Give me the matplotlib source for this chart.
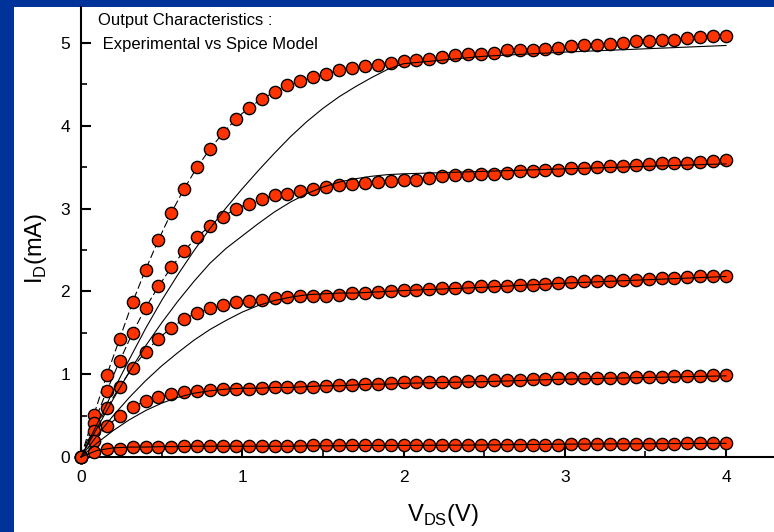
import matplotlib
matplotlib.use("Agg")
import matplotlib.pyplot as plt
from matplotlib.patches import Rectangle

# ---------------- data ----------------
vds_meas = [0.00, 0.08, 0.16, 0.24, 0.32, 0.40, 0.48, 0.56, 0.64, 0.72,
            0.80, 0.88, 0.96, 1.04, 1.12, 1.20, 1.28, 1.36, 1.44, 1.52,
            1.60, 1.68, 1.76, 1.84, 1.92, 2.00, 2.08, 2.16, 2.24, 2.32,
            2.40, 2.48, 2.56, 2.64, 2.72, 2.80, 2.88, 2.96, 3.04, 3.12,
            3.20, 3.28, 3.36, 3.44, 3.52, 3.60, 3.68, 3.76, 3.84, 3.92, 4.00]

id_meas_1 = [0.00, 0.51, 0.99, 1.43, 1.87, 2.26, 2.62, 2.95, 3.24, 3.50,
             3.72, 3.91, 4.08, 4.22, 4.32, 4.41, 4.49, 4.54, 4.59, 4.63,
             4.67, 4.70, 4.72, 4.74, 4.76, 4.78, 4.79, 4.81, 4.83, 4.85,
             4.87, 4.87, 4.88, 4.91, 4.92, 4.92, 4.93, 4.94, 4.96, 4.98,
             4.98, 4.99, 5.00, 5.02, 5.03, 5.04, 5.04, 5.06, 5.07, 5.08, 5.08]
id_meas_2 = [0.00, 0.41, 0.80, 1.16, 1.50, 1.80, 2.06, 2.29, 2.49, 2.66,
             2.79, 2.90, 3.00, 3.06, 3.12, 3.16, 3.18, 3.21, 3.24, 3.26,
             3.28, 3.30, 3.31, 3.32, 3.33, 3.35, 3.35, 3.37, 3.39, 3.40,
             3.40, 3.42, 3.42, 3.43, 3.45, 3.46, 3.47, 3.47, 3.49, 3.49,
             3.50, 3.51, 3.51, 3.53, 3.54, 3.55, 3.55, 3.55, 3.56, 3.57, 3.59]
id_meas_3 = [0.00, 0.31, 0.59, 0.85, 1.08, 1.27, 1.43, 1.56, 1.67, 1.74,
             1.80, 1.84, 1.87, 1.88, 1.90, 1.92, 1.93, 1.94, 1.94, 1.95,
             1.96, 1.98, 1.98, 1.99, 2.00, 2.02, 2.02, 2.03, 2.04, 2.04,
             2.05, 2.06, 2.06, 2.07, 2.08, 2.08, 2.09, 2.10, 2.11, 2.12,
             2.12, 2.13, 2.14, 2.14, 2.15, 2.16, 2.16, 2.17, 2.18, 2.18, 2.19]
id_meas_4 = [0.00, 0.19, 0.37, 0.50, 0.60, 0.68, 0.72, 0.76, 0.79, 0.80,
             0.81, 0.82, 0.82, 0.82, 0.83, 0.84, 0.84, 0.85, 0.85, 0.86,
             0.87, 0.87, 0.88, 0.88, 0.89, 0.90, 0.90, 0.91, 0.91, 0.91,
             0.92, 0.92, 0.93, 0.93, 0.93, 0.94, 0.94, 0.95, 0.95, 0.95,
             0.96, 0.96, 0.96, 0.97, 0.97, 0.97, 0.98, 0.98, 0.98, 0.99, 0.99]
id_meas_5 = [0.00, 0.06, 0.10, 0.10, 0.12, 0.12, 0.12, 0.12, 0.13, 0.13,
             0.13, 0.13, 0.13, 0.13, 0.13, 0.13, 0.13, 0.13, 0.14, 0.14,
             0.14, 0.14, 0.14, 0.14, 0.14, 0.14, 0.14, 0.14, 0.14, 0.15,
             0.15, 0.15, 0.15, 0.15, 0.15, 0.15, 0.15, 0.15, 0.16, 0.16,
             0.16, 0.16, 0.16, 0.16, 0.16, 0.16, 0.16, 0.17, 0.17, 0.17, 0.17]

vds_model = [0.0, 0.1, 0.2, 0.3, 0.4, 0.5, 0.6, 0.7, 0.8, 0.9, 1.0,
             1.1, 1.2, 1.3, 1.4, 1.5, 1.6, 1.7, 1.8, 1.9, 2.0,
             2.5, 3.0, 3.5, 4.0]
id_model_1 = [0.00, 0.40, 0.80, 1.18, 1.55, 1.89, 2.20, 2.49, 2.76, 3.01, 3.24,
              3.46, 3.67, 3.87, 4.05, 4.21, 4.35, 4.47, 4.58, 4.68, 4.75,
              4.84, 4.89, 4.93, 4.97]
id_model_2 = [0.00, 0.35, 0.70, 1.03, 1.34, 1.62, 1.88, 2.12, 2.34, 2.52, 2.67,
              2.82, 2.96, 3.08, 3.18, 3.26, 3.32, 3.36, 3.39, 3.41, 3.42,
              3.45, 3.48, 3.51, 3.54]
id_model_3 = [0.00, 0.26, 0.50, 0.72, 0.92, 1.10, 1.26, 1.41, 1.54, 1.65, 1.75,
              1.83, 1.89, 1.93, 1.96, 1.97, 1.98, 1.98, 1.99, 2.00, 2.01,
              2.05, 2.10, 2.14, 2.18]
id_model_4 = [0.00, 0.17, 0.32, 0.45, 0.56, 0.65, 0.72, 0.77, 0.80, 0.82, 0.83,
              0.83, 0.84, 0.84, 0.85, 0.86, 0.86, 0.87, 0.88, 0.88, 0.89,
              0.91, 0.94, 0.96, 0.98]
id_model_5 = [0.00, 0.08, 0.11, 0.12, 0.12, 0.125, 0.125, 0.13, 0.13, 0.13, 0.13,
              0.13, 0.13, 0.13, 0.135, 0.135, 0.135, 0.14, 0.14, 0.14, 0.14,
              0.145, 0.155, 0.16, 0.165]

x_ticks = [0, 1, 2, 3, 4]
y_ticks = [0, 1, 2, 3, 4, 5]
title_lines = ["Output Characteristics :", " Experimental vs Spice Model"]

# ---------------- style ----------------
plt.rcParams['font.family'] = ['Liberation Sans', 'DejaVu Sans']
plt.rcParams['mathtext.fontset'] = 'custom'
plt.rcParams['mathtext.rm'] = 'Liberation Sans'

W, H = 774, 532
fig = plt.figure(figsize=(W / 100, H / 100), dpi=100)
fig.patch.set_facecolor('#003399')
bg = Rectangle((14 / W, 0), 1 - 14 / W, (H - 7) / H,
               transform=fig.transFigure, facecolor='white',
               edgecolor='none', zorder=-10)
fig.patches.append(bg)

ax = fig.add_axes([81 / W, 1 - 457 / H, 1 - 81 / W, (457 - 7) / H])
ax.set_zorder(5)
ax.set_facecolor('none')
ax.set_xlim(0, (W - 81) / 161.25)
ax.set_ylim(0, (457 - 7) / 82.8)

meas = [id_meas_1, id_meas_2, id_meas_3, id_meas_4, id_meas_5]
models = [id_model_1, id_model_2, id_model_3, id_model_4, id_model_5]

for m in meas:
    ax.plot(vds_meas, m, color='black', linewidth=0.8,
            dashes=(7, 3), zorder=2, clip_on=False)
    ax.plot(vds_meas, m, linestyle='none', marker='o', markersize=8.8,
            markerfacecolor='#ff3300', markeredgecolor='black',
            markeredgewidth=1.0, zorder=3, clip_on=False)
for m in models:
    ax.plot(vds_model, m, color='black', linewidth=0.8, zorder=4,
            clip_on=False)

for side in ['top', 'right']:
    ax.spines[side].set_visible(False)
for side in ['left', 'bottom']:
    ax.spines[side].set_linewidth(1.5)

ax.set_xticks(x_ticks)
ax.set_yticks(y_ticks)
ax.set_xticks([0.5, 1.5, 2.5, 3.5], minor=True)
ax.set_yticks([0.5, 1.5, 2.5, 3.5, 4.5], minor=True)
ax.tick_params(which='major', direction='in', length=7, width=1.5,
               labelsize=12.5, pad=9)
ax.tick_params(which='minor', direction='in', length=4, width=1.2)
ax.tick_params(axis='y', which='major', pad=8)

fig.text(443 / W, 1 - 515 / H, r'V$_{\mathrm{DS}}$(V)', ha='center',
         va='center', fontsize=17)
fig.text(36 / W, 1 - 248 / H, r'I$_{\mathrm{D}}$(mA)', ha='center',
         va='center', fontsize=17, rotation=90)

fig.text(98 / W, 1 - 20 / H, title_lines[0], ha='left', va='center',
         fontsize=12)
fig.text(98 / W, 1 - 45 / H, title_lines[1], ha='left', va='center',
         fontsize=12)

fig.savefig('out.png', dpi=100, facecolor=fig.get_facecolor())
